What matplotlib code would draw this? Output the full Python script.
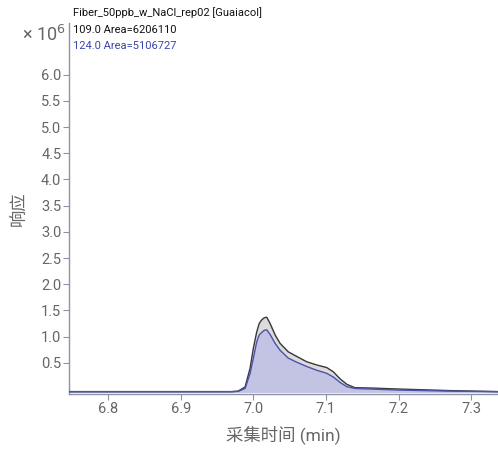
import matplotlib
matplotlib.use("Agg")
import matplotlib.pyplot as plt

plt.rcParams['font.family'] = ['Roboto', 'Noto Sans CJK SC', 'DejaVu Sans']

# time (min)
t = [6.746, 6.90, 6.970, 6.979, 6.9886, 6.9955, 7.000, 7.0046, 7.008, 7.0115, 7.0150,
     7.0184, 7.023, 7.030, 7.0368, 7.048, 7.060, 7.0735, 7.087, 7.101, 7.110, 7.119,
     7.1287, 7.140, 7.160, 7.200, 7.270, 7.337]
# response (x10^6)
ion109 = [-0.05, -0.05, -0.05, -0.04, 0.04, 0.40, 0.78, 1.09, 1.25, 1.32, 1.36,
          1.37, 1.25, 1.03, 0.87, 0.71, 0.62, 0.52, 0.46, 0.41, 0.33, 0.20,
          0.09, 0.025, 0.02, 0.0, -0.03, -0.05]
ion124 = [-0.05, -0.05, -0.05, -0.045, 0.01, 0.30, 0.59, 0.90, 1.03, 1.08, 1.12,
          1.13, 1.04, 0.87, 0.74, 0.59, 0.51, 0.43, 0.36, 0.30, 0.23, 0.13,
          0.045, 0.01, 0.0, -0.02, -0.04, -0.05]
baseline = -0.05

title = "Fiber_50ppb_w_NaCl_rep02 [Guaiacol]"
label109 = "109.0 Area=6206110"
label124 = "124.0 Area=5106727"
xticks = [6.8, 6.9, 7.0, 7.1, 7.2, 7.3]
yticks = [0.5, 1.0, 1.5, 2.0, 2.5, 3.0, 3.5, 4.0, 4.5, 5.0, 5.5, 6.0]

fig = plt.figure(figsize=(4.98, 4.5), dpi=100)
ax = fig.add_axes([69/498, 1-394/450, 1-69/498, (394-23)/450])

ax.fill_between(t, baseline, ion109, color='#dcdcdc', zorder=1)
ax.plot(t, ion109, color='#3a3a3a', lw=1.0, zorder=3)
ax.fill_between(t, baseline, ion124, color='#c3c3e3', zorder=2)
ax.plot(t, ion124, color='#4a55aa', lw=1.0, zorder=4)

ax.set_xlim(6.746, 7.337)
ax.set_ylim(-0.095, 6.985)
ax.set_xticks(xticks)
ax.set_xticklabels([f"{v:.1f}" for v in xticks])
ax.set_yticks(yticks)
ax.set_yticklabels([f"{v:.1f}" for v in yticks])

spine_c = '#8a93a8'
for s in ['top', 'right']:
    ax.spines[s].set_visible(False)
for s in ['left', 'bottom']:
    ax.spines[s].set_color(spine_c)
    ax.spines[s].set_linewidth(1.0)
ax.tick_params(axis='both', colors=spine_c, labelcolor='#666666', labelsize=10.5,
               length=4, width=0.8, direction='out', pad=1.5)

ax.set_xlabel("采集时间 (min)", color='#666666', fontsize=12.5, labelpad=7)
ax.set_ylabel("响应", color='#666666', fontsize=12.5, labelpad=10)

fig.text(22/498, 1-35/450, "× 10$^{6}$", color='#666666', fontsize=13, va='center', ha='left')
fig.text(73/498, 1-13/450, title, color='#111111', fontsize=8, va='center', ha='left')
fig.text(73/498, 1-30/450, label109, color='#111111', fontsize=8, va='center', ha='left')
fig.text(73/498, 1-46/450, label124, color='#3a46a8', fontsize=8, va='center', ha='left')

fig.savefig("out.png", dpi=100)
